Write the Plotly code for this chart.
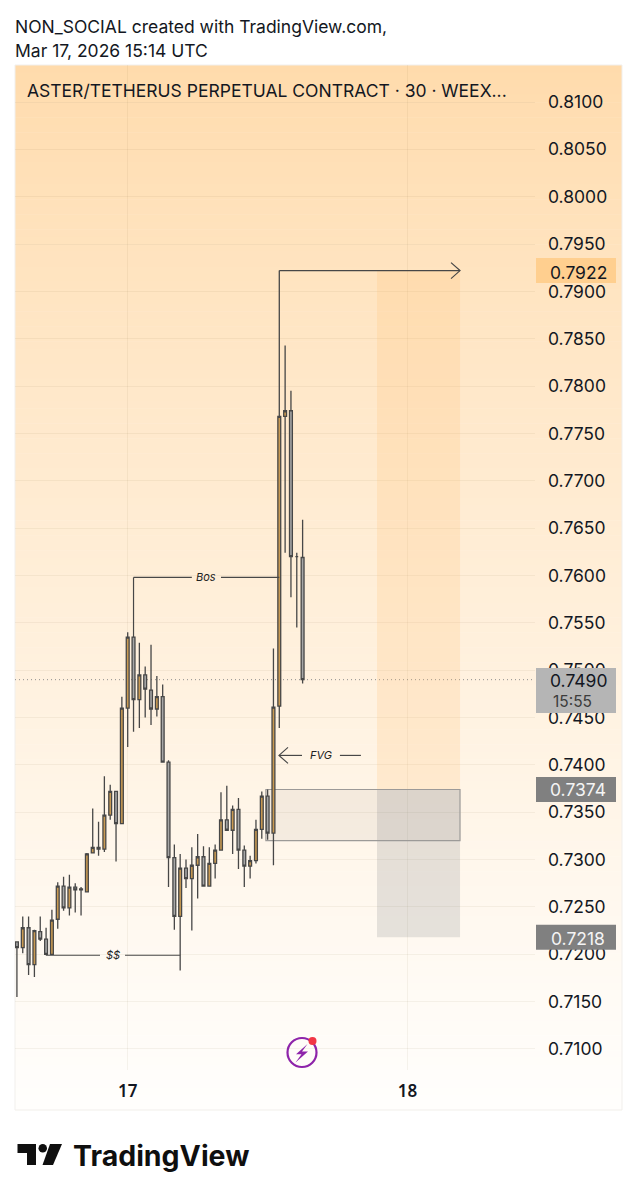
"""Recria o print do TradingView do ASTER/USDT em 30 minutos"""

import plotly.graph_objects as go

# Indice das barras de 30 min (0 = inicio do dia 17, 48 = inicio do dia 18)
barras = list(range(-19, 31))

abertura = [.7213, .7207, .7228, .7189, .7224, .7216, .7200, .7237, .7272, .7249,
            .7271, .7268, .7266, .7307, .7313, .7311, .7347, .7372, .7338, .7460,
            .7535, .7469, .7495, .7479, .7459, .7472, .7403, .7302, .7240, .7291,
            .7280, .7294, .7303, .7272, .7296, .7310, .7342, .7331, .7353, .7310,
            .7293, .7299, .7332, .7367, .7328, .7462, .7768, .7774, .7620, .7619]
maxima = [.7213, .7240, .7240, .7226, .7240, .7228, .7247, .7276, .7282, .7284,
          .7275, .7271, .7307, .7354, .7340, .7388, .7379, .7372, .7472, .7540,
          .7536, .7529, .7504, .7527, .7494, .7485, .7405, .7316, .7306, .7300,
          .7313, .7327, .7314, .7313, .7316, .7371, .7378, .7357, .7365, .7315,
          .7304, .7342, .7372, .7374, .7523, .7922, .7843, .7795, .7624, .7659]
minima = [.7155, .7201, .7178, .7176, .7214, .7199, .7200, .7227, .7246, .7241,
          .7244, .7241, .7266, .7307, .7304, .7308, .7342, .7298, .7338, .7419,
          .7435, .7439, .7450, .7442, .7451, .7403, .7271, .7226, .7183, .7270,
          .7225, .7259, .7272, .7272, .7280, .7310, .7331, .7306, .7290, .7271,
          .7280, .7296, .7322, .7321, .7294, .7439, .7624, .7577, .7545, .7486]
fechamento = [.7207, .7228, .7189, .7225, .7216, .7200, .7236, .7272, .7249, .7271,
              .7268, .7269, .7306, .7313, .7311, .7347, .7372, .7338, .7460, .7535,
              .7469, .7495, .7480, .7459, .7472, .7403, .7302, .7240, .7291, .7280,
              .7294, .7303, .7272, .7296, .7310, .7342, .7331, .7353, .7310, .7293,
              .7299, .7332, .7367, .7328, .7461, .7768, .7774, .7620, .7620, .7490]

ticks_preco = [.71 + i * .005 for i in range(21)]
textos_preco = [f"{v:.4f}" for v in ticks_preco]
ticks_tempo = [0, 48]
textos_tempo = ["17", "18"]

# Desenhos feitos em cima do grafico
preco_alvo, preco_entrada, preco_stop, preco_atual = .7922, .7374, .7218, .7490
posicao_barras = [42.76, 57]
fvg_barras = [23.7, 57]
fvg_precos = [.7320, .7374]
bos_preco, bos_barras = .7598, [1, 11, 16, 26]
liq_preco, liq_barras = .7199, [-14, -4.75, -0.46, 9]
seta_preco, seta_barras = .7410, [25.95, 29.9, 36.4, 40]
topo_barra = 26

ESQ, DIR, TOPO, BASE = 15, 535, 65, 1070
COR_LINHA = "#474747"
FONTE = "Inter"
FONTE_EIXO = "Inter"
TAM_EIXO = 17.5


def px(x):
	return (x - ESQ) / (DIR - ESQ)


def py(y):
	return (BASE - y) / (BASE - TOPO)


def segmento(x0, y0, x1, y1):
	return dict(type="line", xref="x", yref="y", x0=x0, y0=y0, x1=x1, y1=y1,
				line=dict(color=COR_LINHA, width=1.2), layer="above")


def ponta_seta(barra, preco, lado):
	# ponta aberta em pixels, lado=-1 aponta para a direita e lado=1 para a esquerda
	return dict(type="path", xref="x", yref="y", xsizemode="pixel", ysizemode="pixel",
				xanchor=barra, yanchor=preco,
				path=f"M {lado * 9},8 L 0,0 L {lado * 9},-8",
				line=dict(color=COR_LINHA, width=1.2), layer="above")


def etiqueta(preco, cor):
	return dict(type="rect", xref="paper", yref="y", ysizemode="pixel", yanchor=preco,
				x0=px(536), x1=px(616), y0=-12.5, y1=12.5,
				fillcolor=cor, line=dict(width=0), layer="above")


def texto(x, y, txt, tam=17.5, cor="#131722", fonte=FONTE, anchor="left"):
	return dict(x=px(x), y=py(y), xref="paper", yref="paper", text=txt, showarrow=False,
				xanchor=anchor, yanchor="middle", font=dict(family=fonte, size=tam, color=cor))


def nota(barra, preco, txt):
	return dict(x=barra, y=preco, xref="x", yref="y", text=f"<i>{txt}</i>", showarrow=False,
				font=dict(family=FONTE, size=11, color="#222222"))


fig = go.Figure(go.Candlestick(
	x=barras, open=abertura, high=maxima, low=minima, close=fechamento,
	increasing=dict(fillcolor="#C99A52", line=dict(color=COR_LINHA, width=1.3)),
	decreasing=dict(fillcolor="#A6A6A6", line=dict(color=COR_LINHA, width=1.3)),
	showlegend=False,
))

# Fundo em degrade do painel, feito em faixas finas
formas = []
topo_rgb, base_rgb = (255, 219, 172), (255, 254, 252)
n_faixas = 140
painel_base = 1110
for i in range(n_faixas):
	t = (i / (n_faixas - 1)) ** 0.85
	cor = [round(a + (b - a) * t) for a, b in zip(topo_rgb, base_rgb)]
	y0 = TOPO + (painel_base - TOPO) * i / n_faixas
	y1 = TOPO + (painel_base - TOPO) * (i + 1) / n_faixas + 0.5
	formas.append(dict(type="rect", xref="paper", yref="paper", x0=px(ESQ), x1=px(622), y0=py(y0), y1=py(y1),
					   fillcolor=f"rgb({cor[0]},{cor[1]},{cor[2]})", line=dict(width=0), layer="below"))
formas.append(dict(type="rect", xref="paper", yref="paper", x0=px(ESQ), x1=px(622), y0=py(TOPO), y1=py(painel_base),
				   line=dict(color="#F1EFEC", width=1), layer="below"))

# Zonas da posicao comprada e FVG
formas.append(dict(type="rect", xref="x", yref="y", x0=posicao_barras[0], x1=posicao_barras[1],
				   y0=preco_entrada, y1=preco_alvo, fillcolor="rgba(255,190,110,0.2)", line=dict(width=0), layer="between"))
formas.append(dict(type="rect", xref="x", yref="y", x0=posicao_barras[0], x1=posicao_barras[1],
				   y0=preco_stop, y1=preco_entrada, fillcolor="rgba(110,115,120,0.18)", line=dict(width=0), layer="between"))
formas.append(dict(type="rect", xref="x", yref="y", x0=fvg_barras[0], x1=fvg_barras[1],
				   y0=fvg_precos[0], y1=fvg_precos[1], fillcolor="rgba(110,110,110,0.08)",
				   line=dict(color="#9C9A98", width=1.2), layer="between"))

# Linha pontilhada do preco atual
formas.append(dict(type="line", xref="paper", yref="y", x0=0, x1=1, y0=preco_atual, y1=preco_atual,
				   line=dict(color="#8F8F8F", width=1, dash="1px,3px"), layer="between"))

# Bos
formas.append(segmento(bos_barras[0], bos_preco, bos_barras[1], bos_preco))
formas.append(segmento(bos_barras[2], bos_preco, bos_barras[3], bos_preco))
formas.append(segmento(bos_barras[0], bos_preco, bos_barras[0], maxima[bos_barras[0] + 19]))
# $$
formas.append(segmento(liq_barras[0], liq_preco, liq_barras[1], liq_preco))
formas.append(segmento(liq_barras[2], liq_preco, liq_barras[3], liq_preco))
# FVG
formas.append(segmento(seta_barras[0], seta_preco, seta_barras[1], seta_preco))
formas.append(segmento(seta_barras[2], seta_preco, seta_barras[3], seta_preco))
formas.append(ponta_seta(seta_barras[0], seta_preco, 1))
# Seta do topo ate o alvo
formas.append(segmento(topo_barra, preco_alvo, posicao_barras[1], preco_alvo))
formas.append(ponta_seta(posicao_barras[1], preco_alvo, -1))

# Etiquetas de preco
formas.append(etiqueta(preco_alvo, "#FFCF8F"))
formas.append(etiqueta(preco_entrada, "#808080"))
formas.append(etiqueta(preco_stop, "#808080"))
formas.append(dict(type="rect", xref="paper", yref="paper", x0=px(536), x1=px(616), y0=py(668), y1=py(713),
				   fillcolor="#B5B5B5", line=dict(width=0), layer="above"))

# Icone de raio
ix, iy = px(302), py(1052.5)
formas.append(dict(type="circle", xref="paper", yref="paper", xsizemode="pixel", ysizemode="pixel",
				   xanchor=ix, yanchor=iy, x0=-14.5, x1=14.5, y0=-14.5, y1=14.5,
				   line=dict(color="#8E24AA", width=2.2), fillcolor="rgba(255,255,255,0)", layer="above"))
formas.append(dict(type="path", xref="paper", yref="paper", xsizemode="pixel", ysizemode="pixel",
				   xanchor=ix, yanchor=iy, path="M 5.5,8.5 L -6,-1.8 L -0.5,-1.8 L -6.5,-10 L 6,1 L 0,1 Z",
				   fillcolor="#8E24AA", line=dict(width=0), layer="above"))
formas.append(dict(type="circle", xref="paper", yref="paper", xsizemode="pixel", ysizemode="pixel",
				   xanchor=px(312.5), yanchor=py(1041), x0=-4, x1=4, y0=-4, y1=4,
				   fillcolor="#F23645", line=dict(width=0), layer="above"))

# Logo do TradingView
formas.append(dict(type="path", xref="paper", yref="paper",
				   path="M {} {} L {} {} L {} {} L {} {} L {} {} L {} {} Z".format(
					   px(17.5), py(1144), px(36), py(1144), px(36), py(1165),
					   px(27), py(1165), px(27), py(1153), px(17.5), py(1153)),
				   fillcolor="#0F0F0F", line=dict(width=0), layer="above"))
formas.append(dict(type="circle", xref="paper", yref="paper", x0=px(38.5), x1=px(47), y0=py(1144), y1=py(1152.5),
				   fillcolor="#0F0F0F", line=dict(width=0), layer="above"))
formas.append(dict(type="path", xref="paper", yref="paper",
				   path="M {} {} L {} {} L {} {} L {} {} Z".format(
					   px(50), py(1144), px(62), py(1144), px(53), py(1165), px(42.5), py(1165)),
				   fillcolor="#0F0F0F", line=dict(width=0), layer="above"))

notas = [
	texto(13, 27, "NON_SOCIAL created with TradingView.com,"),
	texto(13, 51, "Mar 17, 2026 15:14 UTC"),
	texto(25, 91, "ASTER/TETHERUS PERPETUAL CONTRACT · 30 · WEEX..."),
	texto(578, 272, f"{preco_alvo:.4f}", TAM_EIXO, "#131722", FONTE_EIXO, "center"),
	texto(578, 680, f"{preco_atual:.4f}", TAM_EIXO, "#131722", FONTE_EIXO, "center"),
	texto(572.5, 701, "15:55", 15.5, "#3C3C3C", FONTE_EIXO, "center"),
	texto(578, 790, f"{preco_entrada:.4f}", TAM_EIXO, "#F4F4F4", FONTE_EIXO, "center"),
	texto(578, 938, f"{preco_stop:.4f}", TAM_EIXO, "#F4F4F4", FONTE_EIXO, "center"),
	texto(71, 1155, "<b>TradingView</b>", 28.5, "#0F0F0F", FONTE),
	nota(13.4, bos_preco, "Bos"),
	nota(-2.6, liq_preco, "$$"),
	nota(33.1, seta_preco, "FVG"),
]

fig.update_layout(
	width=637, height=1199, autosize=False,
	margin=dict(l=ESQ, r=637 - DIR, t=TOPO, b=1199 - BASE),
	paper_bgcolor="white", plot_bgcolor="rgba(0,0,0,0)",
	shapes=formas, annotations=notas,
	hovermode=False,
	xaxis=dict(range=[-19.33, 69.86], tickmode="array", tickvals=ticks_tempo, ticktext=textos_tempo,
			   showgrid=True, gridcolor="rgba(90,60,20,0.06)", gridwidth=1, zeroline=False, showline=False,
			   ticks="", rangeslider=dict(visible=False), ticklabelstandoff=9,
			   tickfont=dict(family="Noto Sans", size=17, color="#131722", weight=600)),
	yaxis=dict(range=[.70778, .81391], side="right", tickmode="array", tickvals=ticks_preco, ticktext=textos_preco,
			   showgrid=True, gridcolor="rgba(90,60,20,0.06)", gridwidth=1, zeroline=False, showline=False,
			   ticks="", ticklabelstandoff=12, tickfont=dict(family=FONTE_EIXO, size=TAM_EIXO, color="#131722")),
)

fig.write_html("out.html", config={"displayModeBar": False}, post_script="document.body.style.margin='0';")
